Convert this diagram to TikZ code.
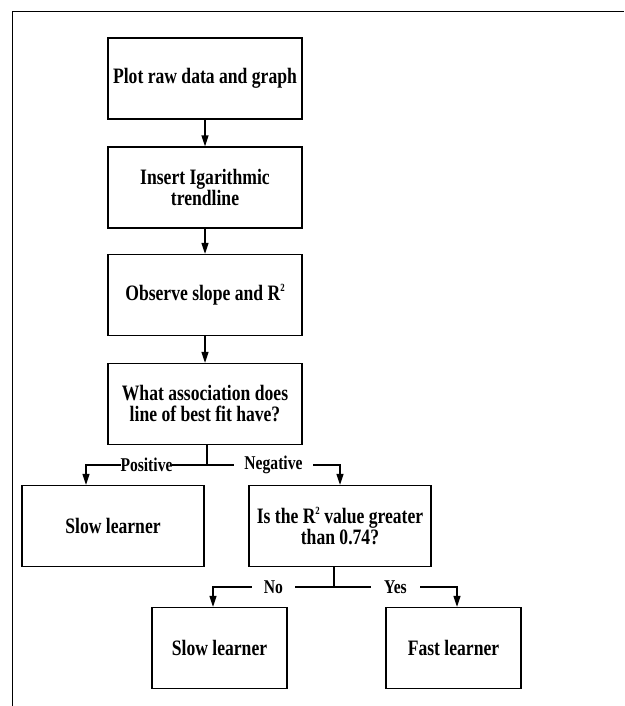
\documentclass[tikz,border=0pt]{standalone}
\usepackage{fontspec}
\setmainfont{Liberation Serif}[FakeStretch=0.80]
\usetikzlibrary{arrows.meta}
\newcommand{\sqtwo}{\raisebox{0.9ex}{\fontsize{11}{11}\selectfont 2}}
\tikzset{
  stepbox/.style={draw, line width=1.3pt, minimum width=#1, minimum height=81pt,
    inner sep=0pt, align=center, font=\fontsize{22}{21}\selectfont\bfseries},
  branch/.style={fill=white, inner xsep=#1, inner ysep=1pt,
    font=\fontsize{19.5}{19.5}\selectfont\bfseries},
  flow/.style={line width=1.3pt, -{Triangle[width=7pt,length=11pt]}}
}
\begin{document}
\begin{tikzpicture}[x=1pt,y=-1pt]
  \useasboundingbox (0,0) rectangle (624,706);
  \draw [line width=1pt] (12,706) -- (12,12) -- (624,12);
  \node [stepbox=194] (plot) at (205,78.5) {Plot raw data and graph};
  \node [stepbox=194] (trend) at (205,187.5) {Insert Igarithmic\\trendline};
  \node [stepbox=194] (slope) at (205,295) {Observe slope and R\sqtwo};
  \node [stepbox=194] (assoc) at (205,404) {What association does\\line of best fit have?};
  \node [stepbox=182] (slowA) at (113,526) {Slow learner};
  \node [stepbox=182] (rsq) at (340,526) {Is the R\sqtwo\ value greater\\than 0.74?};
  \node [stepbox=135] (slowB) at (219.5,648) {Slow learner};
  \node [stepbox=135] (fast) at (453.5,648) {Fast learner};
  \draw [flow] (plot) -- (trend);
  \draw [flow] (trend) -- (slope);
  \draw [flow] (slope) -- (assoc);
  % first fork
  \coordinate (forkA) at (207,465);
  \draw [line width=1.3pt] (assoc.south -| forkA) -- (forkA);
  \draw [flow] (forkA) -| node [branch=0pt, pos=0.25] {Positive} ([xshift=-27pt]slowA.north);
  \draw [flow] (forkA) -| node [branch=10pt, pos=0.25] {Negative} (rsq.north);
  % second fork
  \coordinate (forkB) at (334,587);
  \draw [line width=1.3pt] (rsq.south -| forkB) -- (forkB);
  \draw [flow] (forkB) -| node [branch=12pt, pos=0.25] {No} ([xshift=-6.5pt]slowB.north);
  \draw [flow] (forkB) -| node [branch=13pt, pos=0.25] {Yes} ([xshift=3.5pt]fast.north);
\end{tikzpicture}
\end{document}
